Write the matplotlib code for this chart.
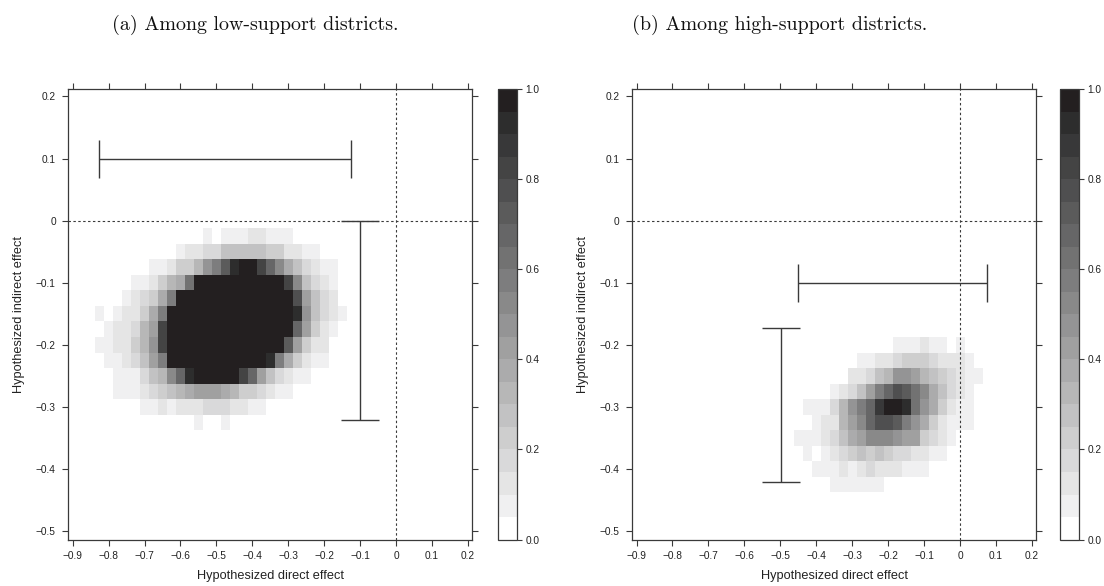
import numpy as np
import matplotlib
matplotlib.use("Agg")
import matplotlib.pyplot as plt
from matplotlib.colors import ListedColormap, BoundaryNorm
from matplotlib.ticker import FuncFormatter
import matplotlib.colorbar as mcolorbar

# --- data: shading level (0..19) of each 0.025 x 0.025 cell ---
# panel (a): rows top -> bottom, y = -0.025 ... -0.325 ; cols x = -0.825 ... -0.150
low_x = np.arange(-0.825, -0.1499, 0.025)
low_y = np.arange(-0.025, -0.3251, -0.025)
low_levels = [
    [0,0,0,0,0,0,0,0,0,0,0,0,1,0,1,1,1,2,2,1,1,1,0,0,0,0,0,0],
    [0,0,0,0,0,0,0,0,0,1,2,2,3,3,5,5,5,5,5,4,4,2,2,1,1,0,0,0],
    [0,0,0,0,0,0,1,1,2,4,4,6,9,11,14,18,19,19,16,13,10,7,5,3,2,1,1,0],
    [0,0,0,0,1,1,2,4,6,7,12,19,19,19,19,19,19,19,19,19,19,16,10,5,3,2,1,0],
    [0,0,0,1,2,3,4,7,11,19,19,19,19,19,19,19,19,19,19,19,19,19,15,8,5,3,2,0],
    [1,0,1,2,2,4,7,11,19,19,19,19,19,19,19,19,19,19,19,19,19,19,18,9,5,3,2,1],
    [0,1,2,2,3,6,8,16,19,19,19,19,19,19,19,19,19,19,19,19,19,19,13,8,4,2,1,0],
    [1,1,2,2,4,6,9,16,19,19,19,19,19,19,19,19,19,19,19,19,19,14,8,4,2,2,0,0],
    [0,1,1,2,3,5,8,11,19,19,19,19,19,19,19,19,19,19,19,18,11,7,4,2,1,1,0,0],
    [0,0,1,1,1,3,5,6,10,13,18,19,19,19,19,19,16,13,8,5,3,2,1,1,0,0,0,0],
    [0,0,1,1,1,2,3,4,5,6,7,8,8,8,7,6,4,4,3,2,1,1,0,0,0,0,0,0],
    [0,0,0,0,0,1,1,2,1,2,2,2,3,3,3,2,2,1,1,0,0,0,0,0,0,0,0,0],
    [0,0,0,0,0,0,0,0,0,0,0,1,0,0,1,0,0,0,0,0,0,0,0,0,0,0,0,0],
]

# panel (b): rows y = -0.200 ... -0.425 ; cols x = -0.45 ... 0.05
high_x = np.arange(-0.45, 0.0501, 0.025)
high_y = np.arange(-0.2, -0.4251, -0.025)
high_levels = [
    [0,0,0,0,0,0,0,0,0,0,0,1,1,1,2,1,1,0,1,0,0],
    [0,0,0,0,0,0,0,1,1,2,2,3,4,4,4,3,2,2,2,1,0],
    [0,0,0,0,0,0,2,2,3,5,6,9,9,8,6,5,4,3,2,1,1],
    [0,0,0,0,1,2,3,5,8,11,13,15,14,12,10,7,5,3,2,1,0],
    [0,1,1,1,3,6,9,11,13,17,19,19,18,12,9,7,4,2,1,1,0],
    [0,0,1,2,2,6,8,10,13,15,15,14,11,9,7,4,2,1,1,1,0],
    [1,1,1,2,3,5,7,8,10,10,10,9,8,8,4,3,2,1,0,0,0],
    [0,1,0,1,2,3,4,5,4,5,4,3,3,2,2,1,1,0,0,0,0],
    [0,0,1,1,1,2,1,2,3,2,2,2,1,1,1,0,0,0,0,0,0],
    [0,0,0,0,1,1,1,1,1,1,0,0,0,0,0,0,0,0,0,0,0],
]

# intervals drawn as error bars: (fixed coordinate, low, high)
low_direct_ci = (0.1, -0.826, -0.126)
low_indirect_ci = (-0.1, -0.321, 0.0)
high_direct_ci = (-0.1, -0.45, 0.074)
high_indirect_ci = (-0.499, -0.421, -0.1725)

titles = ["(a) Among low-support districts.", "(b) Among high-support districts."]
xlab = "Hypothesized direct effect"
ylab = "Hypothesized indirect effect"

# --- style ---
n_lev = 20
grays = [255] + list(np.linspace(240, 33, n_lev - 1))
cols = [(g / 255, g / 255, min(g / 255 + 0.003, 1.0)) for g in grays]
cols[-1] = "#231f20"
cmap = ListedColormap(cols)
bounds = np.linspace(0, 1, n_lev + 1)
norm = BoundaryNorm(bounds, n_lev)

plt.rcParams["font.family"] = ["Liberation Sans", "DejaVu Sans"]
line_col = "#3a3a3a"

fig = plt.figure(figsize=(11.04, 5.86), dpi=100)

W, H = 1104, 586
def frac(x0, x1, y0, y1):
    return [x0 / W, 1 - y1 / H, (x1 - x0) / W, (y1 - y0) / H]

ax_pos = [frac(68.3, 472, 89, 539.6), frac(632.2, 1036, 89, 539.6)]
cb_pos = [frac(498, 517, 89, 539.6), frac(1060.3, 1079.4, 89, 539.6)]
title_x = [255, 780]

def fmt(v, _):
    if abs(v) < 1e-9:
        return "0"
    return f"{v:.1f}".replace("-", "\u2212")

panels = [
    (low_x, low_y, low_levels, low_direct_ci, low_indirect_ci),
    (high_x, high_y, high_levels, high_direct_ci, high_indirect_ci),
]

for i, (xc, yc, lev, hci, vci) in enumerate(panels):
    ax = fig.add_axes(ax_pos[i])
    Z = (np.array(lev, dtype=float) + 0.5) / n_lev
    Z = np.ma.masked_where(np.array(lev) == 0, Z)
    ax.pcolormesh(xc, yc, Z, cmap=cmap, norm=norm, shading="nearest")

    ax.axhline(0, color=line_col, lw=0.8, ls=(0, (2.2, 2.2)))
    ax.axvline(0, color=line_col, lw=0.8, ls=(0, (2.2, 2.2)))

    yv, lo, hi = hci
    ax.errorbar([(lo + hi) / 2], [yv], xerr=[[(hi - lo) / 2], [(hi - lo) / 2]],
                fmt="none", ecolor=line_col, elinewidth=1.0, capsize=13.8, capthick=1.0)
    xv, lo, hi = vci
    ax.errorbar([xv], [(lo + hi) / 2], yerr=[[(hi - lo) / 2], [(hi - lo) / 2]],
                fmt="none", ecolor=line_col, elinewidth=1.0, capsize=14, capthick=1.0)

    ax.set_xlim(-0.912, 0.211)
    ax.set_ylim(-0.5139, 0.212)
    ax.set_xticks(np.round(np.arange(-0.9, 0.201, 0.1), 1))
    ax.set_yticks(np.round(np.arange(-0.5, 0.201, 0.1), 1))
    ax.xaxis.set_major_formatter(FuncFormatter(fmt))
    ax.yaxis.set_major_formatter(FuncFormatter(fmt))
    ax.tick_params(direction="out", length=4.5, width=0.8, color=line_col,
                   labelsize=7.3, labelcolor="#222222", top=True, right=True,
                   labeltop=False, labelright=False)
    ax.tick_params(axis="x", pad=4)
    ax.tick_params(axis="y", pad=4.5)
    for sp in ax.spines.values():
        sp.set_color(line_col)
        sp.set_linewidth(0.9)

    ax.set_xlabel(xlab, fontsize=9.2, color="#222222")
    ax.set_ylabel(ylab, fontsize=9.2, color="#222222")
    ax.xaxis.set_label_coords(0.5, -0.068)
    ax.yaxis.set_label_coords(-0.107, 0.5)

    cax = fig.add_axes(cb_pos[i])
    cb = mcolorbar.ColorbarBase(cax, cmap=cmap, norm=norm, boundaries=bounds,
                                ticks=[0, 0.2, 0.4, 0.6, 0.8, 1.0], drawedges=False)
    cb.ax.set_yticklabels(["0.0", "0.2", "0.4", "0.6", "0.8", "1.0"])
    cb.ax.minorticks_off()
    cb.outline.set_edgecolor(line_col)
    cb.outline.set_linewidth(0.9)
    cax.tick_params(direction="out", length=3.5, width=0.8, color=line_col,
                    labelsize=7.3, labelcolor="#222222", pad=2.5)

    fig.text(title_x[i] / W, 1 - 25 / H, titles[i], fontsize=14.4,
             family="cmr10", ha="center", va="center", color="#111111")

fig.savefig("out.png", dpi=100)
